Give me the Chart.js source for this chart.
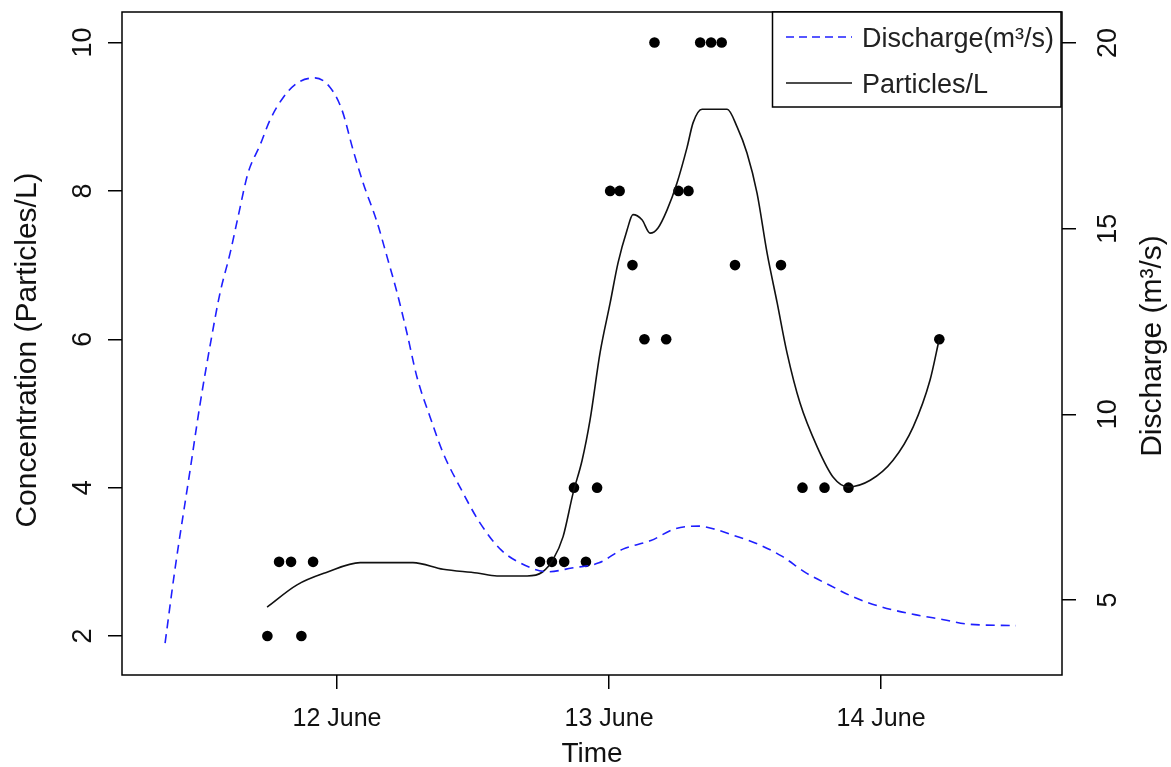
<!DOCTYPE html>
<html>
<head>
<meta charset="utf-8">
<script src="https://cdn.jsdelivr.net/npm/chart.js@4.4.1/dist/chart.umd.min.js"></script>
<style>
  html, body { margin: 0; padding: 0; background: #fff; }
  .wrap { width: 1171px; height: 767px; position: relative; }
</style>
</head>
<body>
<div class="wrap"><canvas id="chart"></canvas></div>
<script>
// time in days, 1 = 12 June
const dayTicks = [1, 2, 3];
const dayLabels = ['12 June', '13 June', '14 June'];
const concTicks = [2, 4, 6, 8, 10];
const flowTicks = [5, 10, 15, 20];

// discharge (m3/s), right axis
const dischargeTime = [0.368, 0.404, 0.460, 0.496, 0.537, 0.570, 0.607, 0.636, 0.673, 0.717, 0.754, 0.801, 0.853, 0.919, 0.974,
  1.018, 1.059, 1.096, 1.147, 1.184, 1.221, 1.257, 1.294, 1.342, 1.390, 1.452, 1.526, 1.603, 1.673, 1.774, 1.863, 1.963,
  2.051, 2.154, 2.243, 2.331, 2.382, 2.458, 2.546, 2.635, 2.724, 2.813, 2.889, 2.951, 3.040, 3.129, 3.230, 3.319, 3.496];
const dischargeFlow = [3.84, 5.81, 8.50, 10.25, 12.00, 13.27, 14.34, 15.31, 16.50, 17.25, 17.93, 18.52, 18.92, 19.06, 18.81,
  18.20, 17.12, 16.23, 15.18, 14.24, 13.27, 12.19, 11.00, 9.93, 8.96, 8.04, 7.07, 6.35, 6.00, 5.76, 5.86, 6.00,
  6.37, 6.60, 6.92, 6.99, 6.92, 6.74, 6.51, 6.18, 5.73, 5.39, 5.11, 4.93, 4.74, 4.60, 4.47, 4.35, 4.31];

// smoothed particles/L, left axis
const smoothTime = [0.743, 0.853, 0.963, 1.085, 1.279, 1.390, 1.515, 1.588, 1.699, 1.754, 1.794, 1.831, 1.868, 1.901, 1.930,
  1.967, 2.004, 2.033, 2.066, 2.088, 2.121, 2.151, 2.180, 2.213, 2.250, 2.287, 2.309, 2.342, 2.434, 2.471, 2.507, 2.544,
  2.581, 2.618, 2.654, 2.702, 2.765, 2.824, 2.879, 2.960, 3.044, 3.118, 3.180, 3.213];
const smoothConc = [2.39, 2.69, 2.86, 2.99, 2.99, 2.90, 2.85, 2.81, 2.81, 2.86, 3.03, 3.34, 3.93, 4.37, 4.91,
  5.82, 6.49, 7.03, 7.47, 7.68, 7.61, 7.43, 7.50, 7.74, 8.11, 8.59, 8.92, 9.10, 9.10, 8.86, 8.51, 7.97,
  7.16, 6.49, 5.82, 5.14, 4.55, 4.14, 4.01, 4.10, 4.37, 4.82, 5.45, 5.99];

// sampled particles/L
const sampleTime = [0.744, 0.869, 0.787, 0.831, 0.912, 1.746, 1.790, 1.835, 1.915, 1.871, 1.956, 2.004, 2.039, 2.086,
  2.130, 2.167, 2.210, 2.255, 2.292, 2.335, 2.375, 2.414, 2.463, 2.632, 2.711, 2.792, 2.880, 3.214];
const sampleConc = [2, 2, 3, 3, 3, 3, 3, 3, 3, 4, 4, 8, 8, 7,
  6, 10, 6, 8, 8, 10, 10, 10, 7, 7, 4, 4, 4, 6];

const pts = (xs, ys) => xs.map((x, i) => ({ x: x, y: ys[i] }));
const FONT = '"Liberation Sans", Arial, sans-serif';
const BLUE = '#1f1fff';

function upText(ctx, txt, cx, cy, size) {
  ctx.save();
  ctx.translate(cx, cy);
  ctx.rotate(-Math.PI / 2);
  ctx.font = size + 'px ' + FONT;
  ctx.textAlign = 'center';
  ctx.textBaseline = 'alphabetic';
  ctx.fillText(txt, 0, size * 0.358);
  ctx.restore();
}

const frame = {
  id: 'frame',
  afterDraw(chart) {
    const { ctx, chartArea: a, scales } = chart;
    ctx.save();
    ctx.strokeStyle = '#000';
    ctx.lineWidth = 1.5;
    ctx.strokeRect(a.left, a.top, a.right - a.left, a.bottom - a.top);

    ctx.fillStyle = '#111';
    ctx.textAlign = 'center';
    ctx.textBaseline = 'alphabetic';
    ctx.font = '25px ' + FONT;
    dayTicks.forEach((v, i) => ctx.fillText(dayLabels[i], scales.x.getPixelForValue(v), 717 + 25 * 0.358));
    ctx.font = '28px ' + FONT;
    ctx.fillText('Time', (a.left + a.right) / 2, 752 + 28 * 0.358);

    concTicks.forEach(v => upText(ctx, String(v), 81, scales.y.getPixelForValue(v), 27));
    flowTicks.forEach(v => upText(ctx, String(v), 1106, scales.y1.getPixelForValue(v), 27));
    upText(ctx, 'Concentration (Particles/L)', 25, 350, 30);
    upText(ctx, 'Discharge (m\u00b3/s)', 1150, 346, 30);

    // legend
    ctx.fillStyle = '#fff';
    ctx.fillRect(772.5, a.top, 288.5, 95);
    ctx.strokeRect(772.5, a.top, 288.5, 95);
    ctx.lineWidth = 1.5;
    ctx.strokeStyle = BLUE;
    ctx.setLineDash([8, 5]);
    ctx.beginPath(); ctx.moveTo(786, 37); ctx.lineTo(852, 37); ctx.stroke();
    ctx.setLineDash([]);
    ctx.strokeStyle = '#111';
    ctx.beginPath(); ctx.moveTo(786, 83); ctx.lineTo(852, 83); ctx.stroke();
    ctx.fillStyle = '#222';
    ctx.textAlign = 'left';
    ctx.font = '27px ' + FONT;
    ctx.fillText('Discharge(m\u00b3/s)', 862, 37 + 27 * 0.358);
    ctx.fillText('Particles/L', 862, 83 + 27 * 0.358);
    ctx.restore();
  }
};

const tickGrid = { drawOnChartArea: false, drawTicks: true, tickLength: 14, color: '#000', lineWidth: 1.5 };

new Chart(document.getElementById('chart'), {
  type: 'line',
  data: {
    datasets: [
      {
        label: 'Discharge(m³/s)',
        data: pts(dischargeTime, dischargeFlow),
        yAxisID: 'y1',
        borderColor: BLUE,
        borderWidth: 1.6,
        borderDash: [9, 6],
        pointRadius: 0,
        cubicInterpolationMode: 'monotone',
        fill: false
      },
      {
        label: 'Particles/L',
        data: pts(smoothTime, smoothConc),
        yAxisID: 'y',
        borderColor: '#111',
        borderWidth: 1.6,
        pointRadius: 0,
        cubicInterpolationMode: 'monotone',
        fill: false
      },
      {
        type: 'scatter',
        label: 'samples',
        data: pts(sampleTime, sampleConc),
        yAxisID: 'y',
        pointRadius: 5.3,
        backgroundColor: '#000',
        borderWidth: 0
      }
    ]
  },
  options: {
    responsive: true,
    maintainAspectRatio: false,
    animation: false,
    layout: { padding: { top: 12, left: 0, right: 0, bottom: 0 } },
    plugins: { legend: { display: false }, tooltip: { enabled: false } },
    scales: {
      x: {
        type: 'linear',
        position: 'bottom',
        min: 0.2096,
        max: 3.665,
        afterBuildTicks: s => { s.ticks = dayTicks.map(v => ({ value: v })); },
        afterFit: s => { s.height = 92; },
        ticks: { display: false },
        grid: tickGrid,
        border: { display: false }
      },
      y: {
        type: 'linear',
        position: 'left',
        min: 1.475,
        max: 10.411,
        afterBuildTicks: s => { s.ticks = concTicks.map(v => ({ value: v })); },
        afterFit: s => { s.width = 122; },
        ticks: { display: false },
        grid: tickGrid,
        border: { display: false }
      },
      y1: {
        type: 'linear',
        position: 'right',
        min: 2.98,
        max: 20.835,
        afterBuildTicks: s => { s.ticks = flowTicks.map(v => ({ value: v })); },
        afterFit: s => { s.width = 109; },
        ticks: { display: false },
        grid: tickGrid,
        border: { display: false }
      }
    }
  },
  plugins: [frame]
});
</script>
</body>
</html>
